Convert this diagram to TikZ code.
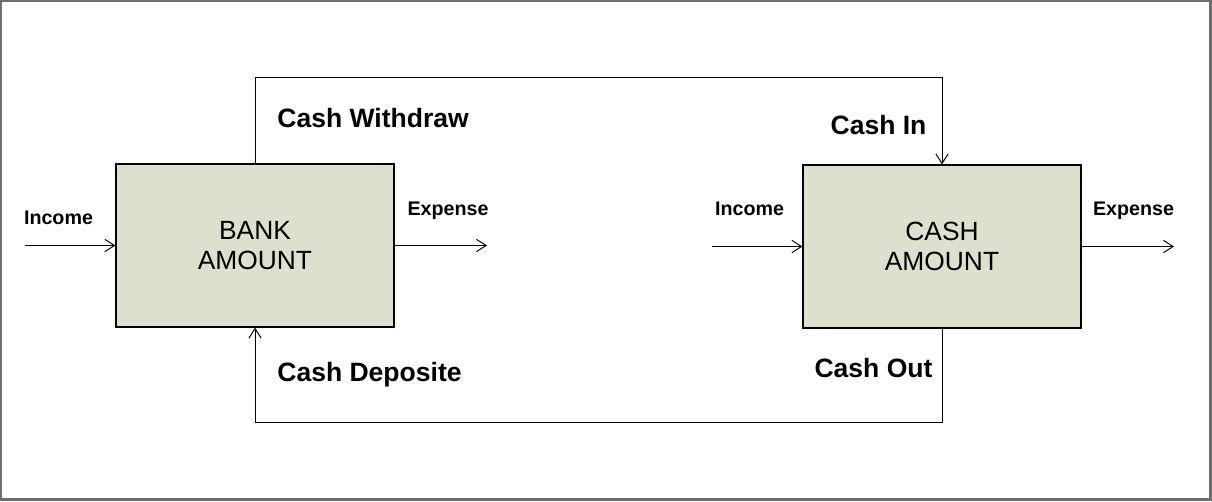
\documentclass[tikz,border=0pt]{standalone}
\usepackage{fontspec}
\setmainfont{Liberation Sans}
\usetikzlibrary{arrows.meta}
\usetikzlibrary{positioning}
\definecolor{boxfill}{RGB}{221,224,204}
\definecolor{framegray}{RGB}{110,110,110}
\tikzset{amount/.style = {draw, fill = boxfill, line width = 0.7pt, minimum width = 5.56cm,
    minimum height = 3.26cm, align = center, font = \fontsize{15}{17.5}\selectfont}}
\tikzset{flow/.style = {line width = 0.55pt, -{Straight Barb[length = 5.5pt, width = 7pt]}}}
\tikzset{biglabel/.style = {inner sep = 0, font = \fontsize{15.1}{18}\selectfont\bfseries}}
\tikzset{smalllabel/.style = {inner sep = 0, font = \fontsize{11.2}{13}\selectfont\bfseries}}

\begin{document}
\begin{tikzpicture}[x = 0.02cm, y = -0.02cm]
      \useasboundingbox (0, 0) rectangle (1212, 501);
      \draw [framegray, line width = 1.2pt] (1, 1) rectangle (1210.5, 499.5);

      \node [amount] (bank) at (255, 245.5) {BANK\\AMOUNT};
      \node [amount] (cash) at (942, 246.5) {CASH\\AMOUNT};

      % transfers between the two amounts
      \draw [flow] (bank.north) -- ++(0, -86) -| (cash.north);
      \draw [flow] (cash.south) -- ++(0, 94) -| (bank.south);
      \node [biglabel, anchor = west] (withdraw) at (277, 118) {Cash Withdraw};
      \node [biglabel] (cashin) at (878.5, 125) {Cash In};
      \node [biglabel, anchor = west] (deposite) at (277, 375) {Cash Deposite};
      \node [biglabel] (cashout) at (873.5, 368) {Cash Out};

      % income and expense of the bank
      \coordinate (bankin) at (25, 245.5);
      \coordinate (bankout) at (487, 245.5);
      \draw [flow] (bankin) -- (bank.west);
      \draw [flow] (bank.east) -- (bankout);
      \node [smalllabel] (incomeL) at (58.5, 218) {Income};
      \node [smalllabel] (expenseL) at (448, 211) {Expense};

      % income and expense of the cash
      \coordinate (cashin) at (712, 246.5);
      \coordinate (cashout) at (1174, 246.5);
      \draw [flow] (cashin) -- (cash.west);
      \draw [flow] (cash.east) -- (cashout);
      \node [smalllabel] (incomeR) at (749.5, 209) {Income};
      \node [smalllabel] (expenseR) at (1133.5, 211) {Expense};
    \end{tikzpicture}
\end{document}
